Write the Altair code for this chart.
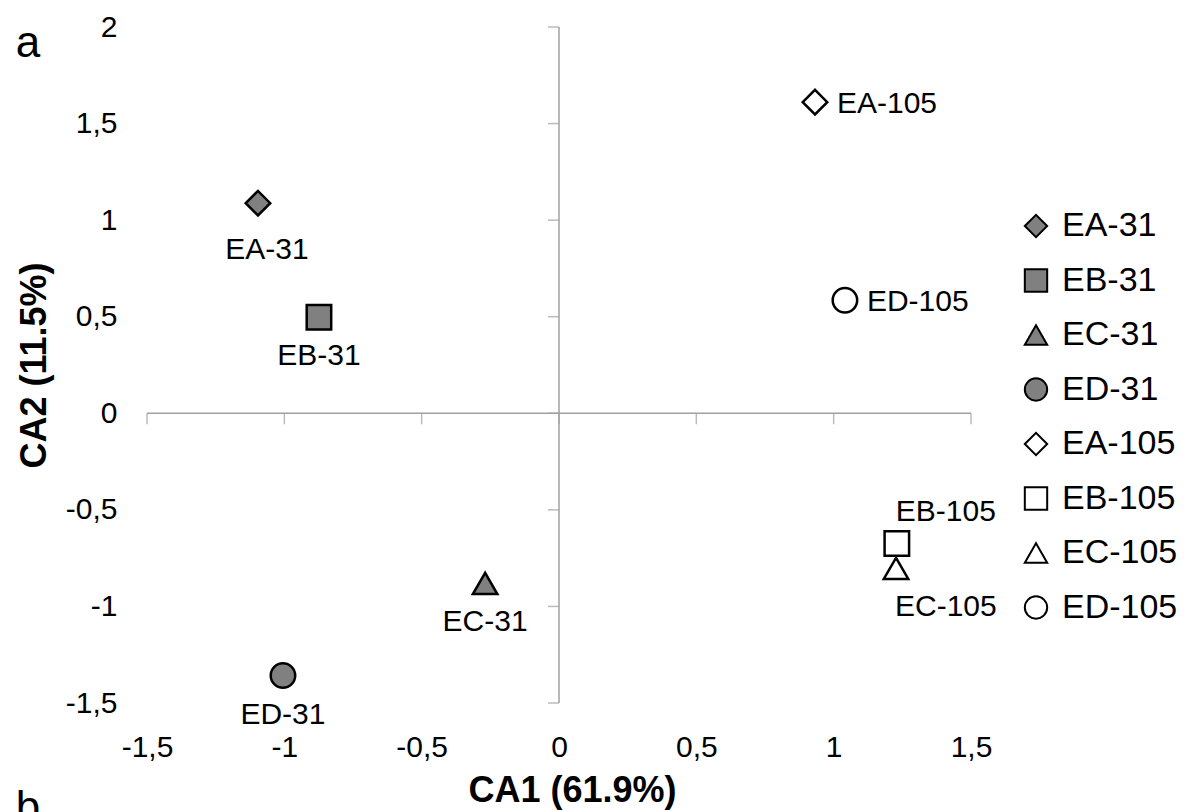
import altair as alt
import pandas as pd

# ---- data ----
names = ["EA-31", "EB-31", "EC-31", "ED-31", "EA-105", "EB-105", "EC-105", "ED-105"]
ca1 = [-1.096, -0.874, -0.269, -1.005, 0.932, 1.230, 1.227, 1.041]
ca2 = [1.088, 0.497, -0.881, -1.358, 1.611, -0.674, -0.803, 0.585]
shapes = ["diamond", "square", "triangle-up", "circle", "diamond", "square", "triangle-up", "circle"]
fills = ["#808080", "#808080", "#808080", "#808080", "white", "white", "white", "white"]
strokes = ["black"] * 8
placement = ["below_far", "below", "below", "below", "right", "above_left", "below_left", "right"]

x_ticks = [-1.5, -1, -0.5, 0, 0.5, 1, 1.5]
y_ticks = [-1.5, -1, -0.5, 0, 0.5, 1, 1.5, 2]

FONT = "Liberation Sans, Arial, sans-serif"
AXIS_GRAY = "#a0a0a0"

pts = pd.DataFrame({"name": names, "ca1": ca1, "ca2": ca2, "place": placement})
xdf = pd.DataFrame({"ca1": x_ticks, "ca2": [0.0] * len(x_ticks)})
ydf = pd.DataFrame({"ca2": y_ticks, "ca1": [0.0] * len(y_ticks)})
lines = pd.DataFrame({"ca1": [0, -1.5], "x2": [0, 1.5], "ca2": [-1.5, 0], "y2": [2, 0]})

xs = alt.Scale(domain=[-1.5, 1.5], nice=False, zero=False)
ys = alt.Scale(domain=[-1.5, 2], nice=False, zero=False)

label_expr = "replace(toString(datum.value), '.', ',')"

ax_x = alt.Axis(values=x_ticks, labelExpr=label_expr, domain=False, ticks=False,
                grid=False, labelFontSize=30, labelFont=FONT, labelColor="black",
                labelPadding=29, labelFlush=False, labelOverlap=False,
                title="CA1 (61.9%)", titleFont=FONT, titleFontSize=36,
                titleFontWeight="bold", titleColor="black",
                titleX=425, titleY=87, titleBaseline="middle", titleAlign="center")
ax_y = alt.Axis(values=y_ticks, labelExpr=label_expr, domain=False, ticks=False,
                grid=False, labelFontSize=30, labelFont=FONT, labelColor="black",
                labelPadding=30, labelFlush=False, labelOverlap=False,
                title="CA2 (11.5%)", titleFont=FONT, titleFontSize=36,
                titleFontWeight="bold", titleColor="black",
                titleX=-113, titleY=338, titleBaseline="middle", titleAlign="center",
                titleAngle=270)

X = lambda: alt.X("ca1:Q", scale=xs, axis=ax_x, title="CA1 (61.9%)")
Y = lambda: alt.Y("ca2:Q", scale=ys, axis=ax_y, title="CA2 (11.5%)")

axis_lines = alt.Chart(lines).mark_rule(color=AXIS_GRAY, strokeWidth=1.5).encode(
    x=X(), x2="x2:Q", y=Y(), y2="y2:Q")

x_tick_marks = alt.Chart(xdf).mark_tick(color=AXIS_GRAY, thickness=1.5, size=11,
                                         orient="vertical", yOffset=5.5).encode(x=X(), y=Y())

y_tick_marks = alt.Chart(ydf).mark_tick(color=AXIS_GRAY, thickness=1.5, size=11,
                                         orient="horizontal", xOffset=-5.5).encode(x=X(), y=Y())

legend = alt.Legend(title=None, orient="none", legendX=872, legendY=182,
                    symbolSize=500, symbolStrokeWidth=2,
                    symbolStrokeColor="black", labelFontSize=34,
                    labelFont=FONT, labelColor="black", labelOffset=9,
                    rowPadding=20.5, padding=0)

points = alt.Chart(pts).mark_point(filled=True, size=600, opacity=1, strokeWidth=2.5).encode(
    x=X(), y=Y(),
    shape=alt.Shape("name:N", sort=names, scale=alt.Scale(domain=names, range=shapes),
                    legend=legend, title=None),
    fill=alt.Fill("name:N", sort=names, scale=alt.Scale(domain=names, range=fills),
                  legend=legend, title=None),
    stroke=alt.Stroke("name:N", sort=names, scale=alt.Scale(domain=names, range=strokes),
                      legend=legend, title=None),
)

def labels(place, **kw):
    return alt.Chart(pts).transform_filter(alt.datum.place == place).mark_text(
        font=FONT, fontSize=30, color="black", baseline="middle", **kw).encode(
        x=X(), y=Y(), text="name:N")

lab_layers = [
    labels("below_far", align="center", dx=9, dy=47),
    labels("below", align="center", dx=0, dy=39),
    labels("right", align="left", dx=22, dy=2),
    labels("above_left", align="left", dx=-1, dy=-31),
    labels("below_left", align="left", dx=-1, dy=39),
]

panel_a = alt.Chart(alt.Data(values=[{}])).mark_text(
    font=FONT, fontSize=44, color="black", align="center", baseline="middle").encode(
    x=alt.value(-119), y=alt.value(17), text=alt.value("a"))
panel_b = alt.Chart(alt.Data(values=[{}])).mark_text(
    font=FONT, fontSize=44, color="black", align="center", baseline="alphabetic").encode(
    x=alt.value(-119), y=alt.value(795), text=alt.value("b"))

chart = alt.layer(axis_lines, x_tick_marks, y_tick_marks, points, *lab_layers,
                  panel_a, panel_b).properties(
    width=824, height=676,
    padding={"left": 147, "top": 27, "right": 220, "bottom": 109},
    autosize=alt.AutoSizeParams(type="none"),
    background="white",
).configure_view(stroke=None)

chart.save("out.html", embed_options={"renderer": "svg", "actions": False})
